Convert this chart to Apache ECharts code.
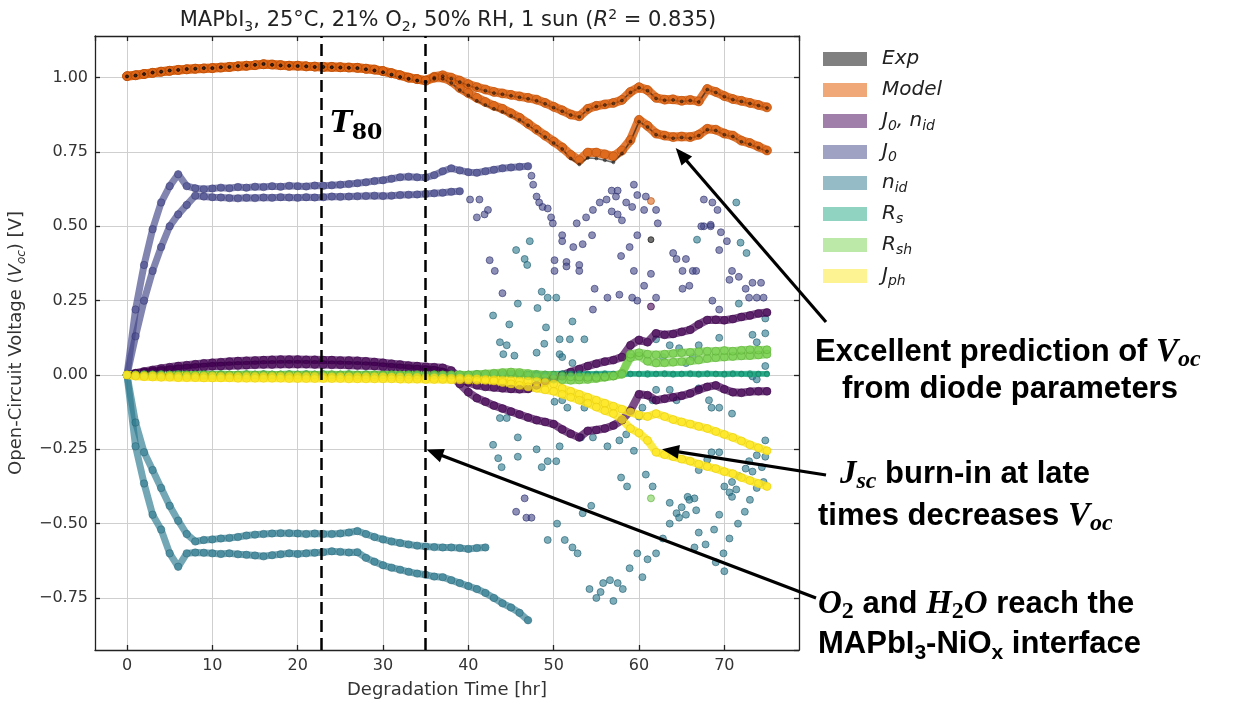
<!DOCTYPE html>
<html>
<head>
<meta charset="utf-8">
<script src="https://cdn.jsdelivr.net/npm/echarts@6/dist/echarts.min.js"></script>
<style>
  html, body { margin: 0; padding: 0; background: #ffffff; }
  #chart { width: 1239px; height: 705px; }
</style>
</head>
<body>
<div id="chart"></div>
<script>
// ---- time grid (hours) ----
const hours = [0,1,2,3,4,5,6,7,8,9,10,11,12,13,14,15,16,17,18,19,20,21,22,23,24,25,26,27,28,29,
  30,31,32,33,34,35,36,37,38,39,40,41,42,43,44,45,46,47,48,49,50,51,52,53,54,55,56,57,58,59,
  60,61,62,63,64,65,66,67,68,69,70,71,72,73,74,75];

// ---- Voc, two devices: model and experiment ----
const modelA = [1.005,1.008,1.012,1.016,1.020,1.023,1.026,1.028,1.030,1.031,
  1.032,1.034,1.036,1.038,1.040,1.042,1.045,1.044,1.042,1.040,
  1.040,1.038,1.037,1.036,1.036,1.035,1.034,1.033,1.030,1.027,
  1.022,1.015,1.008,1.000,0.995,0.990,1.003,1.008,1.000,0.990,
  0.978,0.968,0.960,0.952,0.947,0.942,0.937,0.932,0.926,0.915,
  0.902,0.890,0.876,0.870,0.895,0.905,0.910,0.915,0.925,0.952,
  0.968,0.958,0.932,0.926,0.927,0.922,0.925,0.920,0.962,0.952,
  0.938,0.928,0.922,0.915,0.908,0.900];
const modelB = [1.005,1.008,1.012,1.016,1.020,1.023,1.026,1.028,1.030,1.031,
  1.032,1.034,1.036,1.038,1.040,1.042,1.045,1.044,1.042,1.040,
  1.040,1.038,1.037,1.036,1.036,1.035,1.034,1.033,1.030,1.027,
  1.022,1.015,1.008,1.000,0.995,0.990,1.000,1.000,0.988,0.965,
  0.948,0.932,0.918,0.905,0.895,0.880,0.865,0.845,0.825,0.805,
  0.785,0.765,0.740,0.722,0.748,0.748,0.742,0.735,0.755,0.790,
  0.858,0.838,0.812,0.805,0.800,0.802,0.800,0.808,0.828,0.825,
  0.812,0.805,0.788,0.780,0.768,0.755];
const expA = [1.004,1.007,1.012,1.017,1.020,1.024,1.026,1.029,1.030,1.032,
  1.032,1.035,1.036,1.039,1.041,1.043,1.046,1.043,1.041,1.040,
  1.039,1.038,1.036,1.036,1.035,1.034,1.033,1.032,1.028,1.024,
  1.018,1.010,1.002,0.996,0.990,0.985,1.000,1.005,0.996,0.985,
  0.974,0.964,0.956,0.948,0.944,0.939,0.934,0.929,0.922,0.912,
  0.899,0.887,0.874,0.868,0.892,0.903,0.908,0.913,0.923,0.950,
  0.966,0.956,0.930,0.924,0.925,0.920,0.923,0.918,0.960,0.950,
  0.936,0.926,0.920,0.913,0.906,0.898];
const expB = [1.004,1.007,1.012,1.017,1.020,1.024,1.026,1.029,1.030,1.032,
  1.032,1.035,1.036,1.039,1.041,1.043,1.046,1.043,1.041,1.040,
  1.039,1.038,1.036,1.036,1.035,1.034,1.033,1.032,1.028,1.024,
  1.018,1.010,1.002,0.996,0.990,0.985,0.996,0.996,0.982,0.958,
  0.940,0.922,0.908,0.895,0.885,0.872,0.858,0.840,0.820,0.800,
  0.780,0.760,0.728,0.708,0.730,0.728,0.722,0.715,0.745,0.785,
  0.852,0.834,0.808,0.801,0.796,0.799,0.796,0.805,0.825,0.822,
  0.808,0.802,0.784,0.776,0.764,0.752];

// ---- contributions of each diode parameter to dVoc ----
const j0nidA = [0.000,0.006,0.012,0.017,0.022,0.026,0.030,0.033,0.036,0.039,
  0.041,0.043,0.045,0.047,0.048,0.049,0.050,0.051,0.052,0.052,
  0.052,0.051,0.051,0.050,0.050,0.049,0.049,0.048,0.046,0.044,
  0.041,0.038,0.035,0.032,0.030,0.028,0.026,0.024,0.015,-0.010,
  -0.025,-0.035,-0.040,-0.042,-0.045,-0.047,-0.048,-0.047,-0.035,-0.020,
  -0.010,0.000,0.010,0.020,0.030,0.038,0.045,0.050,0.060,0.100,
  0.118,0.110,0.140,0.135,0.138,0.145,0.152,0.170,0.185,0.186,
  0.184,0.188,0.195,0.200,0.207,0.210];
const j0nidB = [0.000,0.004,0.008,0.012,0.015,0.018,0.021,0.023,0.025,0.027,
  0.029,0.030,0.031,0.032,0.033,0.034,0.035,0.035,0.036,0.036,
  0.036,0.036,0.035,0.035,0.034,0.034,0.033,0.032,0.031,0.030,
  0.028,0.026,0.024,0.022,0.020,0.018,0.016,0.010,0.000,-0.030,
  -0.058,-0.078,-0.090,-0.103,-0.113,-0.123,-0.133,-0.143,-0.152,-0.158,
  -0.165,-0.183,-0.198,-0.210,-0.188,-0.185,-0.180,-0.170,-0.152,-0.120,
  -0.065,-0.068,-0.085,-0.080,-0.075,-0.070,-0.062,-0.050,-0.040,-0.035,
  -0.048,-0.058,-0.060,-0.056,-0.055,-0.055];

const j0A = [0.000,0.220,0.370,0.490,0.580,0.635,0.675,0.635,0.628,0.625,
  0.627,0.630,0.628,0.632,0.630,0.633,0.632,0.635,0.633,0.636,
  0.635,0.634,0.637,0.636,0.638,0.640,0.642,0.645,0.648,0.652,
  0.655,0.660,0.665,0.667,0.665,0.664,0.672,0.685,0.695,0.688,
  0.682,0.680,0.685,0.690,0.695,0.698,0.700,0.702];
const j0B = [0.000,0.130,0.250,0.350,0.430,0.500,0.540,0.572,0.603,0.600,
  0.598,0.597,0.595,0.594,0.596,0.595,0.597,0.596,0.598,0.597,
  0.596,0.598,0.597,0.598,0.600,0.599,0.600,0.601,0.602,0.603,
  0.602,0.603,0.605,0.606,0.607,0.609,0.611,0.613,0.616,0.618];
const j0Scatter = [[40.2,0.59],[41.3,0.59],[41.0,0.53],[41.9,0.54],[42.3,0.555],[42.5,0.386],[43.1,0.35],[44.0,0.275],
  [47.4,0.67],[47.6,0.64],[48.0,0.60],[48.3,0.58],[48.7,0.565],[49.3,0.56],[49.7,0.53],[49.9,0.51],
  [50.1,0.386],[50.1,0.35],[51.5,0.38],[51.5,0.365],[53.0,0.37],[53.0,0.35],[51.0,0.47],[51.0,0.45],
  [52.3,0.43],[53.4,0.44],[54.5,0.47],[54.8,0.29],[56.3,0.26],[57.7,0.27],[57.9,0.40],[58.9,0.43],[59.8,0.47],
  [59.4,0.35],[60.6,0.30],[61.4,0.34],[62.0,0.26],[64.0,0.41],[64.4,0.39],[65.1,0.35],[65.5,0.39],[66.3,0.35],[66.7,0.35],
  [67.6,0.50],[68.4,0.50],[69.6,0.48],[69.4,0.42],[70.3,0.45],[70.6,0.32],[70.9,0.35],[71.7,0.33],
  [72.5,0.29],[73.3,0.31],[74.3,0.31],[72.9,0.26],[73.8,0.26],[74.6,0.26],[65.1,0.29],[65.9,0.30],
  [68.6,0.25],[69.4,0.22],[59.2,0.26],[59.8,0.25],[54.6,0.22],
  [52.7,0.51],[53.8,0.53],[54.6,0.555],[55.4,0.58],[56.2,0.59],[57.3,0.60],[58.5,0.58],[59.2,0.565],
  [56.8,0.55],[57.5,0.54],[58.0,0.52],[56.8,0.62],[57.5,0.62],[59.4,0.64],[59.8,0.605],[60.8,0.60],
  [60.6,0.555],[62.0,0.555],[62.2,0.51],[67.6,0.59],[68.6,0.58],[69.2,0.555],[67.3,0.50],[68.4,0.505],
  [45.6,-0.46],[46.6,-0.415],[46.8,-0.48],[47.4,-0.48]];

const nidA = [0.000,-0.240,-0.365,-0.470,-0.520,-0.600,-0.645,-0.600,-0.597,-0.598,
  -0.600,-0.602,-0.600,-0.603,-0.605,-0.607,-0.610,-0.606,-0.603,-0.600,
  -0.602,-0.600,-0.598,-0.596,-0.593,-0.595,-0.597,-0.596,-0.615,-0.628,
  -0.640,-0.648,-0.655,-0.662,-0.668,-0.672,-0.678,-0.680,-0.690,-0.700,
  -0.710,-0.720,-0.733,-0.750,-0.768,-0.782,-0.800,-0.825];
const nidB = [0.000,-0.160,-0.260,-0.320,-0.380,-0.440,-0.490,-0.535,-0.560,-0.555,
  -0.553,-0.550,-0.548,-0.545,-0.540,-0.537,-0.535,-0.533,-0.532,-0.532,
  -0.533,-0.535,-0.533,-0.535,-0.535,-0.533,-0.530,-0.525,-0.535,-0.545,
  -0.553,-0.560,-0.565,-0.570,-0.574,-0.577,-0.579,-0.580,-0.580,-0.582,
  -0.585,-0.582,-0.580];
const nidScatter = [[47.2,0.45],[46.6,0.39],[46.9,0.37],[45.6,0.42],[45.8,0.24],[42.9,0.20],
  [44.8,0.17],[43.7,0.11],[44.5,0.10],[45.4,0.065],[44.1,0.07],
  [48.1,0.225],[49.1,0.16],[48.0,0.075],[48.9,0.105],[48.6,0.28],[49.3,0.26],[50.3,0.26],
  [50.7,0.12],[51.9,0.12],[52.2,0.18],[50.7,0.07],[51.0,0.06],[52.2,0.04],[53.6,0.12],
  [53.6,-0.11],[53.2,-0.085],[50.1,-0.09],[51.0,-0.085],[51.6,-0.11],
  [43.7,-0.145],[44.5,-0.145],[45.8,-0.21],[42.9,-0.235],[43.5,-0.28],[43.9,-0.31],
  [45.8,-0.275],[48.0,-0.25],[49.3,-0.29],[50.3,-0.29],[48.6,-0.31],
  [50.7,-0.24],[53.2,-0.21],[54.6,-0.21],[56.3,-0.24],[57.7,-0.22],[58.5,-0.20],
  [57.9,-0.345],[58.6,-0.375],[59.4,-0.255],[60.8,-0.335],[61.6,-0.375],
  [54.4,-0.44],[53.4,-0.465],
  [63.6,-0.43],[64.4,-0.465],[65.0,-0.445],[65.7,-0.41],[66.5,-0.415],[66.7,-0.455],[65.5,-0.47],
  [67.0,-0.32],[68.0,-0.285],[68.5,-0.26],[69.4,-0.26],
  [70.0,-0.375],[70.6,-0.395],[70.9,-0.36],[71.4,-0.385],[71.7,-0.34],[72.5,-0.315],[72.9,-0.29],[73.3,-0.325],[73.8,-0.27],[74.4,-0.31],
  [69.4,-0.47],[70.9,-0.41],[74.8,-0.22],[74.8,-0.275],
  [67.0,-0.045],[68.2,-0.085],[68.5,-0.11],[69.4,-0.11],[70.9,-0.13],[73.3,-0.005],[73.8,-0.015],[74.8,0.03],
  [66.8,0.455],[71.9,0.445],[72.6,0.41],[71.7,0.24],[73.3,0.135],[74.8,0.19],[74.8,0.14],[73.8,0.11],
  [69.4,0.125],[67.0,0.10],[66.3,0.06],[65.5,0.04],[64.7,0.09],[63.6,0.10],[62.8,0.06],[62.0,0.12],
  [62.0,-0.05],[63.6,-0.05],[64.4,-0.085],[61.6,-0.085],[60.4,-0.11],[60.0,-0.14],[71.4,0.58],
  [49.3,-0.555],[50.4,-0.50],[51.3,-0.555],[52.2,-0.58],[52.8,-0.60],[54.2,-0.72],[55.0,-0.75],[55.8,-0.70],
  [56.6,-0.69],[57.5,-0.70],[58.1,-0.72],[58.9,-0.65],[59.8,-0.60],[61.0,-0.62],[62.0,-0.60],[62.8,-0.55],
  [63.6,-0.50],[64.7,-0.48],[65.9,-0.42],[67.0,-0.53],[67.8,-0.57],[68.8,-0.52],[69.9,-0.60],[70.6,-0.55],
  [71.6,-0.50],[72.4,-0.46],[73.0,-0.42],[73.8,-0.38],[74.6,-0.36],[70.0,-0.66],[69.0,-0.63],[66.5,-0.58],
  [60.4,-0.68],[57.0,-0.76],[55.5,-0.73]];

const rsA = [0.000,0.004,0.005,0.005,0.006,0.005,0.006,0.005,0.005,0.006,
  0.005,0.006,0.005,0.005,0.006,0.005,0.006,0.005,0.005,0.006,
  0.005,0.006,0.005,0.006,0.005,0.005,0.006,0.005,0.006,0.005,
  0.005,0.006,0.005,0.006,0.005,0.005,0.006,0.005,0.006,0.005,
  0.005,0.006,0.005,0.006,0.005,0.005,0.006,0.005,0.006,0.005,
  0.005,0.006,0.005,0.006,0.005,0.005,0.006,0.005,0.006,0.005,
  0.005,0.006,0.005,0.006,0.005,0.005,0.006,0.005,0.006,0.005,
  0.005,0.006,0.005,0.006,0.005,0.005];
const rsB = [0.000,0.001,0.002,0.002,0.001,0.002,0.002,0.001,0.002,0.002,
  0.001,0.002,0.002,0.001,0.002,0.002,0.001,0.002,0.002,0.001,
  0.002,0.002,0.001,0.002,0.002,0.001,0.002,0.002,0.001,0.002,
  0.002,0.001,0.002,0.002,0.001,0.002,0.002,0.001,0.002,0.002,
  0.001,0.002,0.002,0.001,0.002,0.002,0.001,0.002,0.002,0.001,
  0.002,0.002,0.001,0.002,0.002,0.001,0.002,0.002,0.001,0.002,
  0.002,0.001,0.002,0.002,0.001,0.002,0.002,0.001,0.002,0.002,
  0.001,0.002,0.002,0.001,0.002,0.002];

const rshA = [0.000,0.000,0.001,0.000,-0.001,0.000,0.001,0.000,0.000,-0.001,
  0.000,0.001,0.000,0.000,-0.001,0.000,0.001,0.000,0.000,-0.001,
  0.000,0.001,0.000,0.000,-0.001,0.000,0.001,0.000,0.000,-0.001,
  0.000,0.001,0.000,0.000,-0.001,0.000,0.001,0.000,0.000,-0.001,
  0.000,0.001,0.002,0.003,0.004,0.004,0.002,-0.003,-0.008,-0.011,
  -0.014,-0.016,-0.018,-0.017,-0.015,-0.012,-0.008,-0.004,0.006,0.058,
  0.064,0.046,0.040,0.041,0.043,0.045,0.047,0.050,0.055,0.058,
  0.060,0.062,0.064,0.065,0.067,0.070];
const rshB = [0.000,0.000,-0.001,0.000,0.001,0.000,-0.001,0.000,0.000,0.001,
  0.000,-0.001,0.000,0.000,0.001,0.000,-0.001,0.000,0.000,0.001,
  0.000,-0.001,0.000,0.000,0.001,0.000,-0.001,0.000,0.000,0.001,
  0.000,-0.001,0.000,0.000,0.001,0.000,-0.001,0.000,0.000,0.001,
  0.000,0.002,0.004,0.006,0.008,0.010,0.008,0.005,0.002,0.000,
  -0.002,-0.004,-0.006,-0.007,-0.008,-0.008,-0.006,-0.003,0.002,0.070,
  0.075,0.070,0.068,0.070,0.072,0.075,0.076,0.078,0.080,0.080,
  0.082,0.080,0.083,0.085,0.084,0.085];

const jphA = [0.000,-0.002,-0.003,-0.003,-0.004,-0.004,-0.004,-0.004,-0.004,-0.004,
  -0.004,-0.005,-0.005,-0.005,-0.005,-0.005,-0.005,-0.005,-0.005,-0.005,
  -0.005,-0.005,-0.005,-0.006,-0.006,-0.006,-0.006,-0.006,-0.006,-0.006,
  -0.006,-0.007,-0.007,-0.008,-0.008,-0.009,-0.009,-0.010,-0.011,-0.011,
  -0.012,-0.013,-0.015,-0.016,-0.018,-0.019,-0.020,-0.021,-0.022,-0.025,
  -0.030,-0.045,-0.055,-0.065,-0.075,-0.085,-0.095,-0.105,-0.115,-0.125,
  -0.135,-0.140,-0.130,-0.140,-0.150,-0.158,-0.165,-0.173,-0.180,-0.190,
  -0.200,-0.210,-0.222,-0.235,-0.245,-0.255];
const jphB = [0.000,-0.004,-0.006,-0.007,-0.008,-0.008,-0.009,-0.009,-0.009,-0.010,
  -0.010,-0.010,-0.010,-0.011,-0.011,-0.011,-0.011,-0.011,-0.011,-0.012,
  -0.012,-0.012,-0.012,-0.012,-0.012,-0.012,-0.013,-0.013,-0.013,-0.013,
  -0.013,-0.013,-0.014,-0.014,-0.014,-0.015,-0.015,-0.015,-0.016,-0.016,
  -0.017,-0.018,-0.018,-0.020,-0.025,-0.030,-0.035,-0.040,-0.045,-0.050,
  -0.055,-0.065,-0.075,-0.085,-0.095,-0.108,-0.120,-0.130,-0.150,-0.180,
  -0.195,-0.220,-0.260,-0.268,-0.275,-0.283,-0.290,-0.300,-0.308,-0.315,
  -0.325,-0.332,-0.345,-0.355,-0.365,-0.375];

// single off-trend fits near 61 h
const expOutlier = [[61.4, 0.455]];
const modelOutlier = [[61.4, 0.585]];
const j0nidOutlier = [[61.4, 0.23]];
const rshOutlier = [[61.4, -0.415]];

// ---- axes, markers, annotation anchors ----
const xTicks = [0, 10, 20, 30, 40, 50, 60, 70];
const yTicks = [-0.75, -0.5, -0.25, 0, 0.25, 0.5, 0.75, 1.0];
const markerTimes = [22.75, 35.0];          // T80 and O2/H2O arrival
const arrowTips = [[64.3, 0.763], [62.7, -0.25], [35.1, -0.251]];
const arrowTails = [[826, 322], [826, 475], [816, 598]];   // next to the note texts

const legendNames = ['Exp', 'Model', 'J0nid', 'J0', 'nid', 'Rs', 'Rsh', 'Jph'];
const legendLabels = {
  Exp: '{b|Exp}', Model: '{b|Model}', J0nid: '{b|J}{s|0}{b|, n}{s|id}', J0: '{b|J}{s|0}',
  nid: '{b|n}{s|id}', Rs: '{b|R}{s|s}', Rsh: '{b|R}{s|sh}', Jph: '{b|J}{s|ph}'
};
const legendColors = ['#808080', '#f0a878', '#a080aa', '#a0a2c3', '#94bbc6', '#90d3c1', '#bce8a8', '#fef392'];

const SANS = "'DejaVu Sans', sans-serif";
const chart = echarts.init(document.getElementById('chart'));

function pts(vals) { return vals.map((v, i) => [hours[i], v]); }
function band(name, vals, color, edge, width, opacity, size) {
  return {
    name, type: 'line', data: pts(vals), symbol: 'circle', symbolSize: size,
    showSymbol: true, showAllSymbol: true, silent: true, animation: false,
    lineStyle: { color, width, opacity, cap: 'round', join: 'round' },
    itemStyle: { color, opacity: opacity * 0.8, borderColor: edge, borderWidth: 0.8 },
    emphasis: { disabled: true }
  };
}
function dots(name, list, color, edge, size) {
  return {
    name, type: 'scatter', data: list, symbolSize: size, silent: true, animation: false,
    itemStyle: { color, opacity: 0.6, borderColor: edge, borderWidth: 1 },
    emphasis: { disabled: true }
  };
}
const fmtY = v => (v < 0 ? '\u2212' + (-v).toFixed(2) : v.toFixed(2));

const C = {
  model: ['#dd6414', '#b04a08'], exp: ['#111111', '#000000'],
  j0nid: ['#440154', '#2e0040'], j0: ['#414487', '#2c2f6a'], nid: ['#2a788e', '#1d5a6b'],
  rs: ['#22a884', '#177a5f'], rsh: ['#7ad151', '#5aa838'], jph: ['#fde725', '#e3c90c']
};

const series = [
  band('Model', modelA, C.model[0], C.model[1], 9, 0.85, 9),
  band('Model', modelB, C.model[0], C.model[1], 9, 0.85, 9),
  dots('Model', modelOutlier, C.model[0], C.model[1], 7),
  band('Exp', expA, C.exp[0], C.exp[1], 1.6, 0.6, 3),
  band('Exp', expB, C.exp[0], C.exp[1], 1.6, 0.6, 3),
  dots('Exp', expOutlier, C.exp[0], C.exp[1], 6),
  band('J0nid', j0nidA, C.j0nid[0], C.j0nid[1], 8, 0.7, 8),
  band('J0nid', j0nidB, C.j0nid[0], C.j0nid[1], 8, 0.7, 8),
  dots('J0nid', j0nidOutlier, C.j0nid[0], C.j0nid[1], 7),
  band('J0', j0A, C.j0[0], C.j0[1], 7, 0.65, 7.5),
  band('J0', j0B, C.j0[0], C.j0[1], 7, 0.65, 7.5),
  dots('J0', j0Scatter, C.j0[0], C.j0[1], 7),
  band('nid', nidA, C.nid[0], C.nid[1], 7, 0.65, 7.5),
  band('nid', nidB, C.nid[0], C.nid[1], 7, 0.65, 7.5),
  dots('nid', nidScatter, C.nid[0], C.nid[1], 7),
  band('Rs', rsA, C.rs[0], C.rs[1], 5, 0.85, 5),
  band('Rs', rsB, C.rs[0], C.rs[1], 5, 0.85, 5),
  band('Rsh', rshA, C.rsh[0], C.rsh[1], 8, 0.8, 8),
  band('Rsh', rshB, C.rsh[0], C.rsh[1], 8, 0.8, 8),
  dots('Rsh', rshOutlier, C.rsh[0], C.rsh[1], 7),
  band('Jph', jphA, C.jph[0], C.jph[1], 8, 0.85, 8),
  band('Jph', jphB, C.jph[0], C.jph[1], 8, 0.85, 8)
];
// dashed time markers
series[series.length - 1].markLine = {
  silent: true, symbol: ['none', 'none'], label: { show: false }, animation: false,
  lineStyle: { color: '#000000', type: [12, 6], width: 2.5, opacity: 1 },
  data: markerTimes.map(t => ({ xAxis: t }))
};

const axisLineStyle = { color: '#222222', width: 1.3 };
const gridLine = { show: true, lineStyle: { color: '#cfcfcf', width: 1 } };

const option = {
  backgroundColor: '#ffffff',
  animation: false,
  title: {
    text: 'MAPbI{sub|3}, 25°C, 21% O{sub|2}, 50% RH, 1 sun ({it|R}{sup|2} = 0.835)',
    left: 443, top: 3, textAlign: 'center',
    textStyle: {
      fontFamily: SANS, fontSize: 21, fontWeight: 'normal', color: '#222222', lineHeight: 26,
      rich: {
        sub: { fontFamily: SANS, fontSize: 14, lineHeight: 14, verticalAlign: 'bottom', color: '#222222' },
        sup: { fontFamily: SANS, fontSize: 14, lineHeight: 14, verticalAlign: 'top', color: '#222222' },
        it: { fontFamily: SANS, fontSize: 21, fontStyle: 'italic', lineHeight: 26, color: '#222222' }
      }
    }
  },
  legend: {
    orient: 'vertical', left: 818, top: 42, icon: 'rect', itemWidth: 44, itemHeight: 14, itemGap: 7,
    selectedMode: false,
    data: legendNames.map((n, i) => ({ name: n, itemStyle: { color: legendColors[i], opacity: 1, borderWidth: 0 } })),
    formatter: n => legendLabels[n],
    textStyle: {
      fontFamily: SANS, fontSize: 20, fontStyle: 'italic', color: '#222222', lineHeight: 24,
      padding: [0, 0, 0, 10],
      rich: {
        b: { fontFamily: SANS, fontSize: 20, fontStyle: 'italic', color: '#222222', lineHeight: 24 },
        s: { fontFamily: SANS, fontSize: 14, fontStyle: 'italic', color: '#222222', lineHeight: 14, verticalAlign: 'bottom' }
      }
    }
  },
  grid: { left: 95, top: 36, right: 440, bottom: 55, containLabel: false, outerBoundsMode: 'none' },
  xAxis: [{
    type: 'value', min: -3.75, max: 78.75, minInterval: 10, maxInterval: 10, splitNumber: 8,
    axisLine: { show: true, onZero: false, lineStyle: axisLineStyle },
    axisTick: { show: true, inside: true, length: 5, lineStyle: axisLineStyle },
    axisLabel: {
      show: true, fontFamily: SANS, fontSize: 16, color: '#333333', margin: 8,
      showMinLabel: false, showMaxLabel: false,
      formatter: v => (xTicks.includes(v) ? String(v) : '')
    },
    splitLine: gridLine,
    name: 'Degradation Time [hr]', nameLocation: 'middle', nameGap: 31,
    nameTextStyle: { fontFamily: SANS, fontSize: 18, color: '#333333' }
  }, {
    type: 'value', position: 'top', min: -3.75, max: 78.75, minInterval: 10, maxInterval: 10, splitNumber: 8,
    axisLine: { show: true, onZero: false, lineStyle: axisLineStyle },
    axisTick: { show: true, inside: true, length: 5, lineStyle: axisLineStyle },
    axisLabel: { show: false }, splitLine: { show: false }
  }],
  yAxis: [{
    type: 'value', min: -0.925, max: 1.14, minInterval: 0.25, maxInterval: 0.25, splitNumber: 8,
    axisLine: { show: true, onZero: false, lineStyle: axisLineStyle },
    axisTick: { show: true, inside: true, length: 5, lineStyle: axisLineStyle },
    axisLabel: {
      show: true, fontFamily: SANS, fontSize: 16, color: '#333333', margin: 7,
      showMinLabel: false, showMaxLabel: false,
      formatter: v => (yTicks.some(t => Math.abs(t - v) < 1e-9) ? fmtY(v) : '')
    },
    splitLine: gridLine,
    name: 'Open-Circuit Voltage ({it|V}{sub|oc}) [V]', nameLocation: 'middle', nameGap: 60, nameRotate: 90,
    nameTextStyle: {
      fontFamily: SANS, fontSize: 18, color: '#333333', lineHeight: 24,
      rich: {
        it: { fontFamily: SANS, fontSize: 18, fontStyle: 'italic', color: '#333333', lineHeight: 24 },
        sub: { fontFamily: SANS, fontSize: 12, fontStyle: 'italic', color: '#333333', lineHeight: 13, verticalAlign: 'bottom' }
      }
    }
  }, {
    type: 'value', position: 'right', min: -0.925, max: 1.14, minInterval: 0.25, maxInterval: 0.25, splitNumber: 8,
    axisLine: { show: true, onZero: false, lineStyle: axisLineStyle },
    axisTick: { show: true, inside: true, length: 5, lineStyle: axisLineStyle },
    axisLabel: { show: false }, splitLine: { show: false }
  }],
  series: series.map(s => Object.assign({ xAxisIndex: 0, yAxisIndex: 0 }, s))
};
chart.setOption(option);

// ---- annotations: arrows, T80 label, explanatory notes ----
const toPx = p => chart.convertToPixel({ gridIndex: 0 }, p);
const graphics = [];

arrowTips.forEach((tip, i) => {
  const [tx, ty] = toPx(tip);
  const [sx, sy] = arrowTails[i];
  const dx = tx - sx, dy = ty - sy, len = Math.hypot(dx, dy);
  const ux = dx / len, uy = dy / len, head = 17, half = 7;
  const bx = tx - ux * head, by = ty - uy * head;
  graphics.push({
    type: 'line', silent: true, z: 100,
    shape: { x1: sx, y1: sy, x2: bx + ux * 2, y2: by + uy * 2 },
    style: { stroke: '#000000', lineWidth: 3.2 }
  });
  graphics.push({
    type: 'polygon', silent: true, z: 100,
    shape: { points: [[tx, ty], [bx - uy * half, by + ux * half], [bx + uy * half, by - ux * half]] },
    style: { fill: '#000000' }
  });
});

const t80Px = toPx([markerTimes[0], 0.85]);
graphics.push({
  type: 'text', silent: true, z: 100,
  style: {
    x: t80Px[0] + 9, y: 104, text: '{t|T}{s|80}', verticalAlign: 'top',
    rich: {
      t: { fontFamily: "'DejaVu Serif', serif", fontSize: 29, fontWeight: 'bold', fontStyle: 'italic', fill: '#000', lineHeight: 40 },
      s: { fontFamily: "'DejaVu Serif', serif", fontSize: 22, fontWeight: 'bold', fill: '#000', lineHeight: 24, verticalAlign: 'bottom' }
    }
  }
});

const noteRich = {
  b: { fontFamily: "'Liberation Sans', Arial, sans-serif", fontSize: 31, fontWeight: 'bold', fill: '#000', lineHeight: 40 },
  m: { fontFamily: "'Liberation Serif', 'DejaVu Serif', serif", fontSize: 33, fontWeight: 'bold', fontStyle: 'italic', fill: '#000', lineHeight: 40 },
  ms: { fontFamily: "'Liberation Serif', 'DejaVu Serif', serif", fontSize: 24, fontWeight: 'bold', fontStyle: 'italic', fill: '#000', lineHeight: 22, verticalAlign: 'bottom' },
  ns: { fontFamily: "'Liberation Sans', Arial, sans-serif", fontSize: 21, fontWeight: 'bold', fill: '#000', lineHeight: 22, verticalAlign: 'bottom' },
  nm: { fontFamily: "'Liberation Serif', 'DejaVu Serif', serif", fontSize: 24, fontWeight: 'bold', fill: '#000', lineHeight: 22, verticalAlign: 'bottom' }
};
const notes = [
  [815, 363, '{b|Excellent prediction of }{m|V}{ms|oc}'],
  [842, 400, '{b|from diode parameters}'],
  [840, 485, '{m|J}{ms|sc}{b| burn-in at late}'],
  [818, 527, '{b|times decreases }{m|V}{ms|oc}'],
  [818, 615, '{m|O}{nm|2}{b| and }{m|H}{nm|2}{m|O}{b| reach the}'],
  [818, 655, '{b|MAPbI}{ns|3}{b|-NiO}{ns|x}{b| interface}']
];
notes.forEach(([x, base, text]) => {
  graphics.push({
    type: 'text', silent: true, z: 100,
    style: { x, y: base - 31, text, verticalAlign: 'top', rich: noteRich }
  });
});

chart.setOption({ graphic: graphics });
</script>
</body>
</html>
